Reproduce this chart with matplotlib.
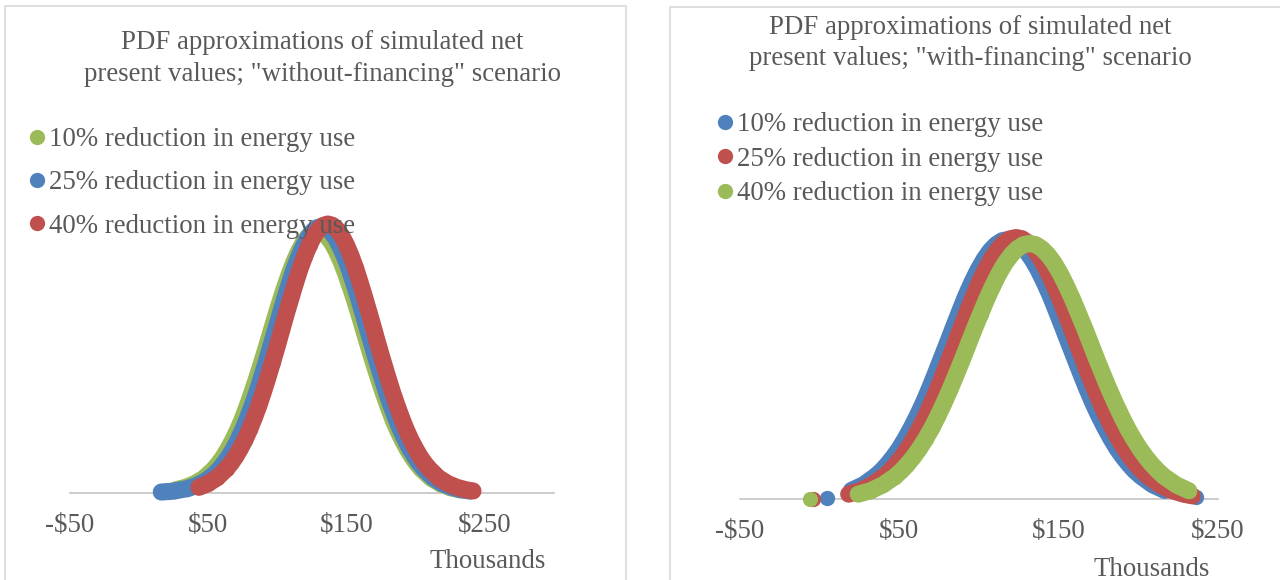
"""
Two Excel-style PDF approximation charts of simulated NPVs,
"without-financing" (left) and "with-financing" (right).
"""

import numpy as np
import matplotlib.pyplot as plt
from matplotlib.lines import Line2D
from matplotlib.patches import Rectangle

plt.rcParams['font.family'] = ['Liberation Serif', 'DejaVu Serif']

BLUE, RED, GREEN = "#4F81BD", "#C0504D", "#9BBB59"
TEXT, AXIS, FRAME = "#595959", "#BFBFBF", "#D9D9D9"

# NPV in thousands of dollars, density in 1e-3 per thousand
# --- without financing ---
wo_10_x = [26.4, 33.2, 40.1, 46.9,
           53.8, 57.2, 60.6, 64.0, 67.4, 70.9, 74.3, 77.7, 81.1, 84.5,
           88.0, 91.4, 94.8, 98.2, 101.6, 105.1, 108.5, 111.9, 115.3, 118.7,
           122.2, 125.6, 129.0, 132.4, 135.8, 139.3, 142.7, 146.1, 149.5, 152.9,
           156.4, 159.8, 163.2, 166.6, 170.0, 173.5, 176.9, 180.3, 183.7, 187.1,
           190.6, 194.0, 197.4, 200.8, 204.2,
           211.1, 217.9, 224.8, 231.6]
wo_10_y = [0.13, 0.23, 0.40, 0.65,
           1.04, 1.29, 1.58, 1.92, 2.31, 2.75, 3.24, 3.79, 4.38, 5.01,
           5.68, 6.37, 7.07, 7.78, 8.47, 9.13, 9.74, 10.29, 10.76, 11.15,
           11.43, 11.60, 11.66, 11.60, 11.43, 11.15, 10.76, 10.29, 9.74, 9.13,
           8.47, 7.78, 7.07, 6.37, 5.68, 5.01, 4.38, 3.79, 3.24, 2.75,
           2.31, 1.92, 1.58, 1.29, 1.04,
           0.65, 0.40, 0.23, 0.13]
wo_25_x = [16.0, 25.0, 34.6, 41.3, 48.0, 54.7,
           58.1, 61.4, 64.8, 68.2, 71.5, 74.9, 78.2, 81.6, 85.0, 88.3,
           91.7, 95.0, 98.4, 101.8, 105.1, 108.5, 111.8, 115.2, 118.6, 121.9,
           125.3, 128.6, 132.0, 135.4, 138.7, 142.1, 145.4, 148.8, 152.2, 155.5,
           158.9, 162.2, 165.6, 169.0, 172.3, 175.7, 179.0, 182.4, 185.8, 189.1,
           192.5, 195.8, 199.2, 202.6, 205.9,
           212.6, 219.4, 226.1, 232.8, 239.5]
wo_25_y = [0.03, 0.07, 0.18, 0.31, 0.52, 0.84,
           1.06, 1.31, 1.61, 1.95, 2.35, 2.80, 3.30, 3.85, 4.45, 5.10,
           5.78, 6.48, 7.20, 7.92, 8.62, 9.29, 9.92, 10.48, 10.96, 11.35,
           11.64, 11.81, 11.87, 11.81, 11.64, 11.35, 10.96, 10.48, 9.92, 9.29,
           8.62, 7.92, 7.20, 6.48, 5.78, 5.10, 4.45, 3.85, 3.30, 2.80,
           2.35, 1.95, 1.61, 1.31, 1.06,
           0.67, 0.40, 0.24, 0.13, 0.07]
wo_40_x = [43.3, 49.9, 56.6,
           63.2, 66.6, 69.9, 73.2, 76.6, 79.9, 83.2, 86.6, 89.9, 93.2,
           96.5, 99.9, 103.2, 106.5, 109.9, 113.2, 116.5, 119.9, 123.2, 126.5,
           129.8, 133.2, 136.5, 139.8, 143.2, 146.5, 149.8, 153.2, 156.5, 159.8,
           163.1, 166.5, 169.8, 173.1, 176.5, 179.8, 183.1, 186.5, 189.8, 193.1,
           196.4, 199.8, 203.1, 206.4, 209.8,
           216.4, 223.1, 229.7, 236.4, 241.4]
wo_40_y = [0.24, 0.41, 0.67,
           1.07, 1.32, 1.62, 1.97, 2.37, 2.82, 3.33, 3.89, 4.50, 5.15,
           5.83, 6.54, 7.27, 7.99, 8.70, 9.38, 10.01, 10.57, 11.06, 11.45,
           11.74, 11.92, 11.98, 11.92, 11.74, 11.45, 11.06, 10.57, 10.01, 9.38,
           8.70, 7.99, 7.27, 6.54, 5.83, 5.15, 4.50, 3.89, 3.33, 2.82,
           2.37, 1.97, 1.62, 1.32, 1.07,
           0.67, 0.41, 0.24, 0.13, 0.08]

# --- with financing ---
wf_10_x = [5.0, 20.2, 27.8,
           35.3, 39.1, 42.9, 46.7, 50.5, 54.2, 58.0, 61.8, 65.6, 69.4,
           73.1, 76.9, 80.7, 84.5, 88.3, 92.0, 95.8, 99.6, 103.4, 107.2,
           110.9, 114.7, 118.5, 122.3, 126.1, 129.8, 133.6, 137.4, 141.2, 145.0,
           148.7, 152.5, 156.3, 160.1, 163.9, 167.6, 171.4, 175.2, 179.0, 182.8,
           186.5, 190.3, 194.1, 197.9, 201.7,
           209.2, 216.8, 236.5]
wf_10_y = [0.05, 0.36, 0.59,
           0.94, 1.16, 1.43, 1.74, 2.09, 2.49, 2.94, 3.43, 3.96, 4.54,
           5.14, 5.77, 6.40, 7.04, 7.67, 8.27, 8.82, 9.32, 9.75, 10.10,
           10.35, 10.51, 10.56, 10.51, 10.35, 10.10, 9.75, 9.32, 8.82, 8.27,
           7.67, 7.04, 6.40, 5.77, 5.14, 4.54, 3.96, 3.43, 2.94, 2.49,
           2.09, 1.74, 1.43, 1.16, 0.94,
           0.59, 0.36, 0.08]
wf_25_x = [-4.0, 18.5, 26.0, 33.5,
           41.0, 44.8, 48.5, 52.3, 56.0, 59.8, 63.5, 67.3, 71.0, 74.8,
           78.5, 82.3, 86.0, 89.8, 93.5, 97.3, 101.0, 104.8, 108.5, 112.3,
           116.0, 119.8, 123.5, 127.3, 131.0, 134.8, 138.5, 142.3, 146.0, 149.8,
           153.5, 157.3, 161.0, 164.8, 168.5, 172.3, 176.0, 179.8, 183.5, 187.3,
           191.0, 194.8, 198.5, 202.3, 206.0,
           213.5, 221.0, 228.5, 234.1]
wf_25_y = [0.03, 0.21, 0.36, 0.60,
           0.95, 1.17, 1.44, 1.75, 2.11, 2.51, 2.96, 3.45, 3.99, 4.57,
           5.18, 5.81, 6.45, 7.10, 7.73, 8.33, 8.89, 9.39, 9.82, 10.17,
           10.43, 10.59, 10.64, 10.59, 10.43, 10.17, 9.82, 9.39, 8.89, 8.33,
           7.73, 7.10, 6.45, 5.81, 5.18, 4.57, 3.99, 3.45, 2.96, 2.51,
           2.11, 1.75, 1.44, 1.17, 0.95,
           0.60, 0.36, 0.21, 0.14]
wf_40_x = [-6.0, 24.5, 32.2, 39.8,
           47.5, 51.4, 55.2, 59.0, 62.9, 66.7, 70.6, 74.4, 78.2, 82.1,
           85.9, 89.8, 93.6, 97.4, 101.3, 105.1, 109.0, 112.8, 116.6, 120.5,
           124.3, 128.2, 132.0, 135.8, 139.7, 143.5, 147.4, 151.2, 155.0, 158.9,
           162.7, 166.6, 170.4, 174.2, 178.1, 181.9, 185.8, 189.6, 193.4, 197.3,
           201.1, 205.0, 208.8, 212.6, 216.5,
           224.2, 231.8]
wf_40_y = [0.02, 0.21, 0.35, 0.58,
           0.92, 1.15, 1.41, 1.71, 2.06, 2.45, 2.89, 3.38, 3.90, 4.47,
           5.06, 5.68, 6.31, 6.94, 7.55, 8.14, 8.69, 9.18, 9.60, 9.94,
           10.19, 10.35, 10.40, 10.35, 10.19, 9.94, 9.60, 9.18, 8.69, 8.14,
           7.55, 6.94, 6.31, 5.68, 5.06, 4.47, 3.90, 3.38, 2.89, 2.45,
           2.06, 1.71, 1.41, 1.15, 0.92,
           0.58, 0.35]

labels = ["10% reduction in energy use", "25% reduction in energy use",
          "40% reduction in energy use"]
tick_vals = [-50, 50, 150, 250]
tick_labels = ["-\\$50", "\\$50", "\\$150", "\\$250"]

W, H = 1280, 580
FS = 19.4
LW = 12.3   # band thickness (pt)
MS = 11.0   # single dot diameter (pt)

fig = plt.figure(figsize=(W / 100, H / 100), dpi=100)


def px_box(left, top, right, bottom):
    return [left / W, 1 - bottom / H, (right - left) / W, (bottom - top) / H]


# chart-area frames
fig.add_artist(Rectangle((5 / W, -0.05), (626 - 5) / W, 1.05 - 6 / H,
                         transform=fig.transFigure, fill=False, ec=FRAME, lw=1.2))
fig.add_artist(Rectangle((670 / W, -0.05), 0.5, 1.05 - 7 / H,
                         transform=fig.transFigure, fill=False, ec=FRAME, lw=1.2))


def draw_series(ax, x, y, color):
    x = np.asarray(x, float)
    y = np.asarray(y, float)
    breaks = np.where(np.diff(x) > 12)[0] + 1
    for xs, ys in zip(np.split(x, breaks), np.split(y, breaks)):
        ax.plot(xs, ys, color=color, lw=LW, solid_capstyle='round',
                solid_joinstyle='round', clip_on=False)
    ax.plot(x, y, 'o', color=color, ms=MS, mew=0, clip_on=False)


def style_axes(ax, xmax, ymax):
    ax.set_xlim(-50, xmax)
    ax.set_ylim(0, ymax)
    for s in ["top", "left", "right"]:
        ax.spines[s].set_visible(False)
    ax.spines["bottom"].set_color(AXIS)
    ax.spines["bottom"].set_linewidth(1.1)
    ax.spines["bottom"].set_zorder(0)
    ax.set_yticks([])
    ax.set_xticks(tick_vals)
    ax.set_xticklabels(tick_labels)
    ax.tick_params(axis="x", length=0, pad=14.5, labelsize=FS, labelcolor=TEXT)
    ax.patch.set_visible(False)


def add_legend(ax, colors, anchor, spacing):
    handles = [Line2D([], [], ls="none", marker="o", ms=MS, mew=0, color=c) for c in colors]
    ax.legend(handles, labels, loc="upper left", bbox_to_anchor=anchor,
              bbox_transform=fig.transFigure, frameon=False, fontsize=FS,
              labelcolor=TEXT, handlelength=0.6, handletextpad=0.15,
              borderpad=0, borderaxespad=0, labelspacing=spacing)


# left chart
ax1 = fig.add_axes(px_box(70, 200, 554, 492.7))
draw_series(ax1, wo_10_x, wo_10_y, GREEN)
draw_series(ax1, wo_25_x, wo_25_y, BLUE)
draw_series(ax1, wo_40_x, wo_40_y, RED)
style_axes(ax1, 300, 292.7 / 22.43)
add_legend(ax1, [GREEN, BLUE, RED], (29 / W, 1 - 127 / H), 0.68)
fig.text(322 / W, 1 - 58.5 / H,
         'PDF approximations of simulated net\npresent values; "without-financing" scenario',
         ha="center", va="center", fontsize=FS, color=TEXT, linespacing=1.32)
fig.text(488 / W, 1 - 562 / H, "Thousands", ha="center", va="center",
         fontsize=FS, color=TEXT)

# right chart
ax2 = fig.add_axes(px_box(739.5, 200, 1217.7, 499.3))
draw_series(ax2, wf_10_x, wf_10_y, BLUE)
draw_series(ax2, wf_25_x, wf_25_y, RED)
draw_series(ax2, wf_40_x, wf_40_y, GREEN)
style_axes(ax2, 250, 299.3 / 24.6)
add_legend(ax2, [BLUE, RED, GREEN], (716.5 / W, 1 - 112 / H), 0.36)
fig.text(970 / W, 1 - 43 / H,
         'PDF approximations of simulated net\npresent values; "with-financing" scenario',
         ha="center", va="center", fontsize=FS, color=TEXT, linespacing=1.32)
fig.text(1152 / W, 1 - 569 / H, "Thousands", ha="center", va="center",
         fontsize=FS, color=TEXT)

fig.savefig("out.png", dpi=100)
